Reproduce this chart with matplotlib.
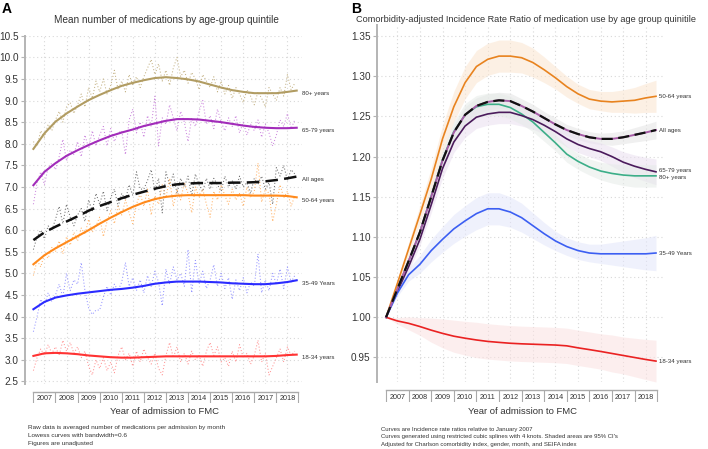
import numpy as np
import matplotlib
matplotlib.use('Agg')
import matplotlib.pyplot as plt
from matplotlib import font_manager

W, H = 708, 449
_names = {f.name for f in font_manager.fontManager.ttflist}
NARROW = 'Liberation Sans Narrow' if 'Liberation Sans Narrow' in _names else 'Liberation Sans'
plt.rcParams['font.family'] = ['Liberation Sans', 'DejaVu Sans']

# ---------------- data ----------------
years = list(range(2007, 2019))
smooth_t = [2007.0, 2007.5, 2008.0, 2008.5, 2009.0, 2009.5, 2010.0, 2010.5, 2011.0, 2011.5,
            2012.0, 2012.5, 2013.0, 2013.5, 2014.0, 2014.5, 2015.0, 2015.5, 2016.0, 2016.5,
            2017.0, 2017.5, 2018.0, 2018.5, 2018.92]

# Panel A: lowess curves (mean number of medications)
A_80 = [7.88, 8.24, 8.51, 8.70, 8.86, 9.01, 9.13, 9.24, 9.34, 9.41, 9.47, 9.52, 9.54, 9.52, 9.49,
        9.44, 9.37, 9.30, 9.24, 9.20, 9.17, 9.17, 9.17, 9.20, 9.23]
A_65 = [7.04, 7.35, 7.55, 7.72, 7.85, 7.97, 8.08, 8.18, 8.26, 8.33, 8.41, 8.47, 8.53, 8.57, 8.57,
        8.56, 8.53, 8.50, 8.46, 8.42, 8.39, 8.37, 8.36, 8.36, 8.37]
A_all = [5.77, 5.95, 6.08, 6.20, 6.32, 6.45, 6.56, 6.65, 6.74, 6.82, 6.89, 6.96, 7.02, 7.06, 7.08,
         7.09, 7.09, 7.09, 7.10, 7.10, 7.11, 7.13, 7.16, 7.20, 7.24]
A_50 = [5.21, 5.42, 5.58, 5.72, 5.86, 6.00, 6.15, 6.29, 6.42, 6.54, 6.64, 6.72, 6.77, 6.80, 6.81,
        6.81, 6.81, 6.81, 6.81, 6.81, 6.80, 6.80, 6.80, 6.79, 6.76]
A_35 = [4.17, 4.34, 4.44, 4.49, 4.53, 4.56, 4.59, 4.62, 4.64, 4.67, 4.71, 4.76, 4.79, 4.81, 4.81,
        4.81, 4.80, 4.79, 4.77, 4.76, 4.75, 4.75, 4.77, 4.80, 4.84]
A_18 = [3.09, 3.15, 3.16, 3.15, 3.13, 3.10, 3.08, 3.06, 3.05, 3.05, 3.06, 3.07, 3.08, 3.08, 3.08,
        3.08, 3.08, 3.08, 3.08, 3.08, 3.08, 3.08, 3.09, 3.11, 3.12]

# Panel A: raw data (every second month, Jan 2007 - Nov 2018)
raw_t = [2007 + k / 6 for k in range(72)]
raw_80 = [8.05, 7.95, 8.30, 8.15, 8.45, 8.30, 8.55, 8.75, 8.50, 8.85, 8.95, 8.70,
          8.90, 9.15, 8.85, 9.30, 9.05, 9.45, 9.20, 9.50, 9.15, 9.35, 9.70, 9.25,
          9.45, 9.20, 9.60, 9.35, 9.55, 9.30, 9.55, 9.75, 9.95, 9.60, 9.85, 9.45,
          9.70, 9.35, 9.75, 10.00, 9.55, 9.70, 9.40, 9.65, 9.50, 9.25, 9.60, 9.45,
          9.30, 9.55, 9.20, 9.45, 9.15, 9.35, 9.05, 9.30, 9.15, 8.95, 9.25, 9.10,
          8.90, 9.20, 9.05, 8.85, 9.30, 9.15, 9.00, 9.30, 9.10, 9.60, 9.25, 9.40]
raw_65 = [6.60, 7.10, 7.35, 7.05, 7.45, 7.55, 7.40, 7.70, 8.10, 7.60, 7.85, 7.75,
          8.05, 7.70, 8.20, 7.90, 8.30, 7.95, 8.20, 8.40, 7.95, 8.35, 8.05, 8.25,
          8.30, 7.75, 8.55, 8.80, 8.25, 8.50, 8.15, 8.65, 8.40, 9.10, 7.95, 8.60,
          8.45, 8.90, 8.60, 8.30, 8.75, 8.50, 8.05, 8.60, 8.40, 8.75, 9.00, 8.45,
          8.65, 8.35, 8.80, 8.50, 8.30, 8.60, 8.40, 8.65, 8.25, 8.50, 8.20, 8.45,
          8.30, 8.55, 8.15, 8.45, 8.25, 7.95, 8.20, 8.55, 8.40, 8.70, 8.35, 8.55]
raw_all = [5.55, 5.85, 6.00, 5.80, 6.10, 6.00, 6.25, 6.55, 6.15, 6.60, 6.30, 6.10,
           6.35, 6.50, 6.20, 6.70, 6.45, 6.85, 6.60, 6.90, 6.45, 6.75, 6.95, 6.55,
           6.85, 6.70, 7.05, 6.80, 7.35, 6.95, 6.95, 7.15, 7.40, 6.90, 7.20, 6.40,
           7.35, 7.05, 7.30, 6.85, 7.20, 7.00, 7.25, 6.80, 7.30, 7.05, 6.90, 7.20,
           6.95, 7.20, 7.05, 6.90, 7.25, 7.00, 7.15, 6.95, 7.25, 7.00, 7.10, 6.85,
           7.20, 7.05, 7.25, 6.95, 7.10, 6.60, 7.45, 7.25, 7.50, 7.15, 7.40, 7.30]
raw_50 = [4.95, 5.30, 5.15, 5.45, 5.35, 5.60, 5.50, 5.75, 5.45, 5.85, 5.65, 5.95,
          5.75, 6.05, 5.90, 6.25, 5.95, 6.10, 6.30, 5.85, 6.20, 6.45, 6.15, 6.55,
          6.35, 6.70, 6.40, 6.15, 6.60, 6.85, 6.55, 6.95, 6.35, 6.80, 6.60, 7.05,
          6.75, 7.20, 6.55, 6.95, 6.70, 7.10, 6.85, 6.40, 7.00, 6.75, 6.95, 6.60,
          6.30, 6.90, 6.70, 7.05, 6.80, 6.60, 6.95, 6.70, 6.85, 6.55, 7.00, 6.75,
          6.90, 7.55, 6.65, 6.95, 6.85, 6.20, 6.60, 7.05, 6.75, 6.90, 6.55, 6.80]
raw_35 = [3.65, 4.00, 4.40, 4.25, 4.55, 4.35, 4.50, 4.75, 4.45, 5.00, 4.60, 4.85,
          4.75, 5.25, 4.60, 4.20, 4.05, 4.15, 4.15, 4.45, 4.70, 4.50, 4.75, 4.60,
          4.80, 5.25, 4.70, 4.90, 4.60, 4.85, 4.55, 4.95, 4.70, 5.05, 4.80, 4.25,
          5.10, 4.75, 5.15, 4.85, 5.00, 4.70, 5.55, 4.55, 5.30, 4.75, 5.05, 4.65,
          4.85, 5.20, 4.70, 5.00, 4.65, 4.90, 4.40, 4.85, 4.60, 4.90, 4.55, 4.80,
          4.70, 5.45, 4.55, 4.85, 4.60, 5.00, 4.75, 5.10, 4.65, 5.15, 4.80, 4.95]
raw_18 = [2.75, 3.05, 3.25, 3.10, 3.35, 3.15, 3.30, 3.10, 3.45, 3.20, 3.40, 3.15,
          3.30, 3.05, 3.20, 2.85, 2.65, 3.00, 2.80, 3.05, 2.75, 2.95, 2.70, 3.10,
          3.30, 3.00, 3.15, 2.85, 3.20, 2.95, 3.25, 3.05, 2.90, 3.15, 2.80, 2.65,
          3.10, 3.40, 3.05, 3.30, 2.95, 3.15, 2.90, 3.20, 3.00, 3.10, 2.85, 3.20,
          3.40, 3.10, 3.30, 2.95, 3.05, 2.85, 3.20, 2.95, 3.35, 3.05, 3.15, 2.90,
          3.10, 3.45, 2.95, 3.15, 2.65, 2.85, 3.05, 3.25, 2.95, 3.30, 3.10, 3.20]

# Panel B: incidence rate ratios and 95% CI half-widths
B_t = [2007.0, 2007.5, 2008.0, 2008.5, 2009.0, 2009.5, 2010.0, 2010.5, 2011.0, 2011.5,
       2012.0, 2012.5, 2013.0, 2013.5, 2014.0, 2014.5, 2015.0, 2015.5, 2016.0, 2016.5,
       2017.0, 2017.5, 2018.0, 2018.5, 2018.95]
B_50 = [1.000, 1.042, 1.085, 1.128, 1.172, 1.222, 1.262, 1.292, 1.312, 1.321, 1.325, 1.325, 1.323,
        1.317, 1.308, 1.298, 1.287, 1.278, 1.2715, 1.269, 1.268, 1.269, 1.270, 1.273, 1.275]
B_all = [1.000, 1.035, 1.070, 1.106, 1.150, 1.195, 1.230, 1.252, 1.263, 1.268, 1.270, 1.269, 1.263,
         1.256, 1.248, 1.240, 1.233, 1.228, 1.224, 1.222, 1.222, 1.224, 1.227, 1.230, 1.233]
B_65 = [1.000, 1.032, 1.063, 1.097, 1.140, 1.185, 1.218, 1.238, 1.249, 1.253, 1.255, 1.255, 1.251,
        1.246, 1.239, 1.231, 1.222, 1.215, 1.210, 1.206, 1.200, 1.193, 1.188, 1.184, 1.181]
B_80 = [1.000, 1.035, 1.070, 1.106, 1.151, 1.196, 1.231, 1.252, 1.262, 1.265, 1.265, 1.261, 1.253,
        1.243, 1.230, 1.217, 1.203, 1.194, 1.187, 1.182, 1.179, 1.177, 1.176, 1.176, 1.176]
B_35 = [1.000, 1.030, 1.053, 1.066, 1.083, 1.097, 1.110, 1.120, 1.129, 1.135, 1.135, 1.131, 1.124,
        1.114, 1.104, 1.095, 1.088, 1.083, 1.080, 1.079, 1.079, 1.079, 1.079, 1.079, 1.080]
B_18 = [1.000, 0.9955, 0.9925, 0.9885, 0.984, 0.980, 0.9765, 0.974, 0.9718, 0.970, 0.9688, 0.9677,
        0.967, 0.9665, 0.966, 0.9655, 0.9645, 0.962, 0.9598, 0.9575, 0.955, 0.9525, 0.950, 0.9475, 0.9455]
ci_50 = [0, .004, .008, .011, .014, .017, .019, .020, .020, .020, .020, .020, .019, .018, .016,
         .014, .013, .012, .012, .012, .013, .014, .016, .018, .020]
ci_all = [0, .002, .004, .006, .007, .008, .009, .010, .010, .010, .010, .010, .009, .009, .008,
          .008, .007, .007, .007, .007, .008, .008, .009, .010, .011]
ci_65 = [0, .003, .006, .008, .010, .012, .013, .014, .014, .014, .014, .014, .013, .012, .011,
         .010, .010, .010, .010, .011, .012, .013, .014, .015, .016]
ci_80 = [0, .003, .006, .008, .010, .012, .013, .014, .014, .014, .014, .014, .013, .012, .011,
         .010, .010, .010, .010, .011, .012, .013, .014, .014, .014]
ci_35 = [0, .004, .008, .011, .014, .016, .018, .019, .020, .020, .020, .019, .018, .016, .014,
         .012, .011, .011, .011, .012, .014, .016, .018, .020, .022]
ci_18 = [0, .004, .008, .011, .015, .018, .020, .021, .022, .022, .022, .022, .022, .022, .022,
         .022, .022, .022, .022, .022, .023, .023, .024, .025, .026]

A_labels = ['80+ years', '65-79 years', 'All ages', '50-64 years', '35-49 Years', '18-34 years']
B_labels = ['50-64 years', 'All ages', '65-79 years', '80+ years', '35-49 Years', '18-34 years']
A_yticks = [2.5, 3.0, 3.5, 4.0, 4.5, 5.0, 5.5, 6.0, 6.5, 7.0, 7.5, 8.0, 8.5, 9.0, 9.5, 10.0, 10.5]
B_yticks = [0.95, 1.00, 1.05, 1.10, 1.15, 1.20, 1.25, 1.30, 1.35]

# ---------------- figure ----------------
fig = plt.figure(figsize=(W / 100, H / 100), dpi=100)
fig.patch.set_facecolor('white')


def px_axes(x0, y0, x1, y1):
    return fig.add_axes([x0 / W, 1 - y1 / H, (x1 - x0) / W, (y1 - y0) / H])


def ftext(x, y, s, **kw):
    fig.text(x / W, 1 - y / H, s, **kw)


SPINE = '#b4b4b4'
GRID = '#d8d8d8'
TXT = '#333333'


def style_axes(ax, yticks, fmt):
    for s in ['top', 'right', 'bottom']:
        ax.spines[s].set_visible(False)
    ax.spines['left'].set_color(SPINE)
    ax.spines['left'].set_linewidth(1.4)
    ax.set_yticks(yticks)
    ax.set_yticklabels([fmt.format(v) for v in yticks], fontsize=7.2, color=TXT, family=NARROW)
    ax.tick_params(axis='y', length=3, width=0.8, color=SPINE, pad=1.5)
    ax.set_xticks([])
    for v in yticks:
        ax.axhline(v, color=GRID, lw=0.8, ls=(0, (1, 2.5)), zorder=0)
    for y in years:
        ax.axvline(y + 0.5, color=GRID, lw=0.8, ls=(0, (1, 2.5)), zorder=0)


def year_band(x0, x1, y0, y1, xlim):
    bx = px_axes(x0, y0, x1, y1)
    bx.set_xlim(*xlim)
    bx.set_ylim(0, 1)
    bx.axis('off')
    bx.plot([years[0], years[-1] + 1], [1, 1], color='#aaaaaa', lw=1.0, clip_on=False)
    bx.vlines(years + [years[-1] + 1], 0, 1, color='#aaaaaa', lw=0.8)
    for y in years:
        bx.text(y + 0.5, 0.35, str(y), ha='center', va='center', fontsize=5.2, color=TXT, family=NARROW)
    return bx


# ---------- Panel A ----------
axA = px_axes(25, 35.7, 302, 384)
axA.set_xlim(2006.62, 2019.16)
axA.set_ylim(2.44, 10.5)
style_axes(axA, A_yticks, '{:.1f}')

raw_cols = ['#c4b285', '#cc88de', '#707070', '#ffb46a', '#9696ff', '#ff9494']
line_cols = ['#b19c62', '#a22cba', '#111111', '#ff8a1c', '#2b2bff', '#ff3333']
raws = [raw_80, raw_65, raw_all, raw_50, raw_35, raw_18]
smooths = [A_80, A_65, A_all, A_50, A_35, A_18]
for r, c in zip(raws, raw_cols):
    axA.plot(raw_t, r, color=c, lw=0.75, ls=(0, (1, 2.0)), zorder=2)
for i, (s, c) in enumerate(zip(smooths, line_cols)):
    if i == 2:
        axA.plot(smooth_t, s, color=c, lw=1.8, ls=(0, (5, 2.5)), zorder=4)
    else:
        axA.plot(smooth_t, s, color=c, lw=1.5, zorder=3)
    axA.annotate(A_labels[i], (smooth_t[-1], s[-1]), xytext=(3.8, -2.2), textcoords='offset points',
                 fontsize=4.4, color=TXT, va='center', ha='left', annotation_clip=False, family=NARROW)

year_band(25, 302, 391.5, 403, (2006.62, 2019.16))

# ---------- Panel B ----------
axB = px_axes(377, 25, 663, 382)
axB.set_xlim(2006.60, 2019.26)
axB.set_ylim(0.9195, 1.3637)
style_axes(axB, B_yticks, '{:.2f}')

B_series = [B_50, B_all, B_65, B_80, B_35, B_18]
B_ci = [ci_50, ci_all, ci_65, ci_80, ci_35, ci_18]
B_cols = ['#e8831f', '#111111', '#4b1b5c', '#3cae88', '#3c5ff2', '#ea2222']
B_band = ['#fbe5cf', '#e4e4e4', '#eadff0', '#e6ebe8', '#e3e6fb', '#fbe1e1']
for s, ci, bc in zip(B_series, B_ci, B_band):
    lo = np.array(s) - np.array(ci)
    hi = np.array(s) + np.array(ci)
    axB.fill_between(B_t, lo, hi, color=bc, alpha=0.55, lw=0, zorder=1)
for i, (s, c) in enumerate(zip(B_series, B_cols)):
    if i == 1:
        axB.plot(B_t, s, color='#a65ca6', lw=1.4, zorder=5)
        axB.plot(B_t, s, color=c, lw=1.6, ls=(0, (5, 2.5)), zorder=6)
    else:
        axB.plot(B_t, s, color=c, lw=1.2, zorder=4 - (i == 3))
    dy = {2: 1.2, 3: -1.2}.get(i, 0)
    axB.annotate(B_labels[i], (B_t[-1], s[-1]), xytext=(2.2, dy), textcoords='offset points',
                 fontsize=4.4, color=TXT, va='center', ha='left', annotation_clip=False, family=NARROW)

year_band(377, 663, 389.5, 402, (2006.60, 2019.26))

# ---------- texts ----------
ftext(2, 9, 'A', fontsize=10, fontweight='bold', va='center', ha='left')
ftext(351, 9, 'B', fontsize=10, fontweight='bold', va='center', ha='left')
ftext(166, 20, 'Mean number of medications by age-group quintile', fontsize=7.2, ha='center',
      va='center', color=TXT)
ftext(356, 20, 'Comorbidity-adjusted Incidence Rate Ratio of medication use by age group quinitile',
      fontsize=6.6, ha='left', va='center', color=TXT)
ftext(165, 411, 'Year of admission to FMC', fontsize=6.8, ha='center', va='center', color=TXT)
ftext(522, 412, 'Year of admission to FMC', fontsize=6.8, ha='center', va='center', color=TXT)

notesA = ['Raw data is averaged number of medications per admission by month',
          'Lowess curves with bandwidth=0.6',
          'Figures are unadjusted']
notesB = ['Curves are Incidence rate ratios relative to January 2007',
          "Curves generated using restricted cubic splines with 4 knots. Shaded areas are 95% CI's",
          'Adjusted for Charlson comorbidity index, gender, month, and SEIFA index']
for k, s in enumerate(notesA):
    ftext(28, 427.5 + 7.9 * k, s, fontsize=4.6, ha='left', va='center', color=TXT)
for k, s in enumerate(notesB):
    ftext(381, 429.5 + 7.3 * k, s, fontsize=4.3, ha='left', va='center', color=TXT)

fig.savefig('out.png', dpi=100, facecolor='white')
